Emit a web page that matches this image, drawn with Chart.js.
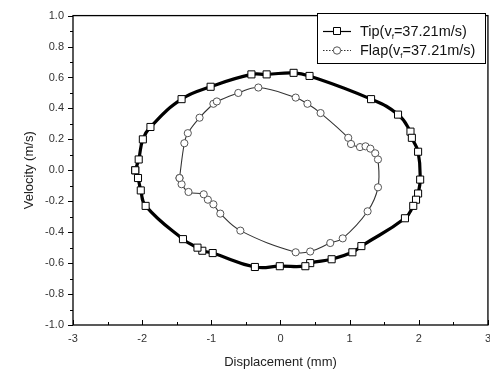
<!DOCTYPE html>
<html>
<head>
<meta charset="utf-8">
<script src="https://cdn.jsdelivr.net/npm/chart.js@4/dist/chart.umd.min.js"></script>
<style>
html,body{margin:0;padding:0;background:#fff;overflow:hidden;width:490px;height:370px;}
#wrap{position:absolute;left:0;top:0;width:498px;height:370px;}
</style>
</head>
<body>
<div id="wrap"><canvas id="c" width="498" height="370"></canvas></div>
<script>
// ---- data ----
const tipX = [-2.10,-2.05,-1.99,-1.88,-1.43,-1.01,-0.42,-0.20,0.19,0.42,1.31,1.70,1.88,1.90,1.99,2.02,1.99,1.96,1.92,1.80,1.17,1.04,0.74,0.43,0.36,-0.01,-0.37,-0.98,-1.13,-1.20,-1.41,-1.95,-2.02,-2.06,-2.10];
const tipY = [0.00,0.07,0.20,0.28,0.46,0.54,0.62,0.62,0.63,0.61,0.46,0.36,0.25,0.21,0.12,-0.06,-0.15,-0.19,-0.23,-0.31,-0.49,-0.53,-0.575,-0.60,-0.62,-0.62,-0.625,-0.535,-0.52,-0.50,-0.445,-0.23,-0.13,-0.05,0.00];
const flapX = [-1.46,-1.39,-1.34,-1.17,-0.97,-0.92,-0.61,-0.32,0.22,0.39,0.58,0.98,1.02,1.15,1.23,1.30,1.37,1.41,1.41,1.26,0.90,0.72,0.43,0.22,-0.58,-0.87,-0.97,-1.05,-1.11,-1.33,-1.43,-1.46];
const flapY = [-0.05,0.175,0.24,0.34,0.43,0.445,0.50,0.535,0.47,0.43,0.37,0.21,0.17,0.15,0.155,0.14,0.11,0.07,-0.11,-0.265,-0.44,-0.47,-0.525,-0.53,-0.39,-0.28,-0.22,-0.19,-0.155,-0.14,-0.09,-0.05];
const seriesNames = ['Tip', 'Flap'];
const legendPrefix = ['Tip(v', 'Flap(v'];
const legendSub = ['f', 'f'];
const legendSuffix = ['=37.21m/s)', '=37.21m/s)'];
const xTickValues = [-3,-2,-1,0,1,2,3];
const yTickValues = [-1.0,-0.8,-0.6,-0.4,-0.2,0.0,0.2,0.4,0.6,0.8,1.0];
const xTitle = 'Displacement (mm)';
const yTitle = 'Velocity (m/s)';

const toPts = (xs, ys) => xs.map((x, i) => ({x: x, y: ys[i]}));
const FONT = '"Liberation Sans", Arial, sans-serif';

const framePlugin = {
  id: 'frameLegend',
  afterDraw(chart) {
    const ctx = chart.ctx;
    const a = chart.chartArea;
    const xs = chart.scales.x, ys = chart.scales.y;
    ctx.save();
    ctx.strokeStyle = '#000';
    ctx.lineWidth = 1.3;
    ctx.strokeRect(a.left, a.top, a.right - a.left, a.bottom - a.top);
    ctx.lineWidth = 1;
    ctx.beginPath();
    for (let v = -1.0; v <= 1.0001; v += 0.1) {
      const p = Math.round(ys.getPixelForValue(v)) + 0.5;
      const major = Math.abs(Math.round(v * 10)) % 2 === 0;
      ctx.moveTo(a.left, p);
      ctx.lineTo(a.left - (major ? 5 : 3), p);
    }
    for (let v = -3; v <= 3.0001; v += 0.5) {
      const p = Math.round(xs.getPixelForValue(v)) + 0.5;
      const major = Math.abs(Math.round(v * 2)) % 2 === 0;
      ctx.moveTo(p, a.bottom);
      ctx.lineTo(p, a.bottom - (major ? 5 : 3));
    }
    ctx.stroke();

    // legend box
    const bx = 317, by = 13, bw = 168, bh = 50;
    ctx.fillStyle = '#fff';
    ctx.fillRect(bx, by, bw, bh);
    ctx.strokeStyle = '#000';
    ctx.lineWidth = 1;
    ctx.strokeRect(bx + 0.5, by + 0.5, bw, bh);
    const rows = [31, 50];
    chart.data.datasets.forEach((ds, i) => {
      const y = rows[i];
      ctx.save();
      ctx.strokeStyle = ds.borderColor;
      ctx.lineWidth = i === 0 ? 1.2 : 1;
      if (i === 1) ctx.setLineDash([1.5, 1.5]);
      ctx.beginPath();
      ctx.moveTo(323, y + 0.5);
      ctx.lineTo(351, y + 0.5);
      ctx.stroke();
      ctx.restore();
      ctx.save();
      ctx.fillStyle = '#fff';
      ctx.strokeStyle = ds.pointBorderColor;
      ctx.lineWidth = 1;
      ctx.beginPath();
      if (i === 0) {
        ctx.rect(333.5, y - 3.5, 7, 7);
      } else {
        ctx.arc(337, y + 0.5, 3.7, 0, Math.PI * 2);
      }
      ctx.fill();
      ctx.stroke();
      ctx.restore();
      ctx.fillStyle = '#111';
      ctx.textBaseline = 'alphabetic';
      ctx.textAlign = 'left';
      ctx.font = '14.5px ' + FONT;
      let tx = 360;
      const base = y + 5;
      ctx.fillText(legendPrefix[i], tx, base);
      tx += ctx.measureText(legendPrefix[i]).width;
      ctx.font = '8px ' + FONT;
      ctx.fillText(legendSub[i], tx, base + 3);
      tx += ctx.measureText(legendSub[i]).width;
      ctx.font = '14.5px ' + FONT;
      ctx.fillText(legendSuffix[i], tx, base);
    });
    ctx.restore();
  }
};

new Chart(document.getElementById('c'), {
  type: 'scatter',
  data: {
    datasets: [
      {
        label: seriesNames[0],
        data: toPts(tipX, tipY),
        showLine: true,
        borderColor: '#000',
        borderWidth: 3.2,
        tension: 0.45,
        pointStyle: 'rect',
        pointRadius: 5,
        pointBackgroundColor: '#fff',
        pointBorderColor: '#000',
        pointBorderWidth: 1
      },
      {
        label: seriesNames[1],
        data: toPts(flapX, flapY),
        showLine: true,
        borderColor: '#333',
        borderWidth: 1.1,
        tension: 0.4,
        pointStyle: 'circle',
        pointRadius: 3.6,
        pointBackgroundColor: '#fff',
        pointBorderColor: '#555',
        pointBorderWidth: 1
      }
    ]
  },
  options: {
    responsive: false,
    animation: false,
    events: [],
    layout: { padding: { top: 14, right: 0, left: 0, bottom: 0 } },
    plugins: { legend: { display: false }, tooltip: { enabled: false } },
    scales: {
      x: {
        type: 'linear',
        min: -3, max: 3,
        afterBuildTicks: (s) => { s.ticks = xTickValues.map(v => ({value: v})); },
        afterFit: (s) => { s.height = 45; },
        grid: { display: false, drawTicks: false },
        border: { display: false },
        ticks: {
          padding: 7,
          color: '#333',
          font: { family: FONT, size: 11 },
          maxRotation: 0,
          callback: (v) => String(v)
        },
        title: {
          display: true,
          text: xTitle,
          color: '#222',
          font: { family: FONT, size: 13 },
          padding: { top: 4, bottom: 0 }
        }
      },
      y: {
        type: 'linear',
        min: -1, max: 1,
        afterBuildTicks: (s) => { s.ticks = yTickValues.map(v => ({value: v})); },
        afterFit: (s) => { s.width = 73; },
        grid: { display: false, drawTicks: false },
        border: { display: false },
        ticks: {
          padding: 9,
          color: '#333',
          font: { family: FONT, size: 11 },
          callback: (v) => Number(v).toFixed(1)
        },
        title: {
          display: true,
          text: yTitle,
          color: '#222',
          font: { family: FONT, size: 13 },
          padding: { top: 22, bottom: 0 }
        }
      }
    }
  },
  plugins: [framePlugin]
});
</script>
</body>
</html>
